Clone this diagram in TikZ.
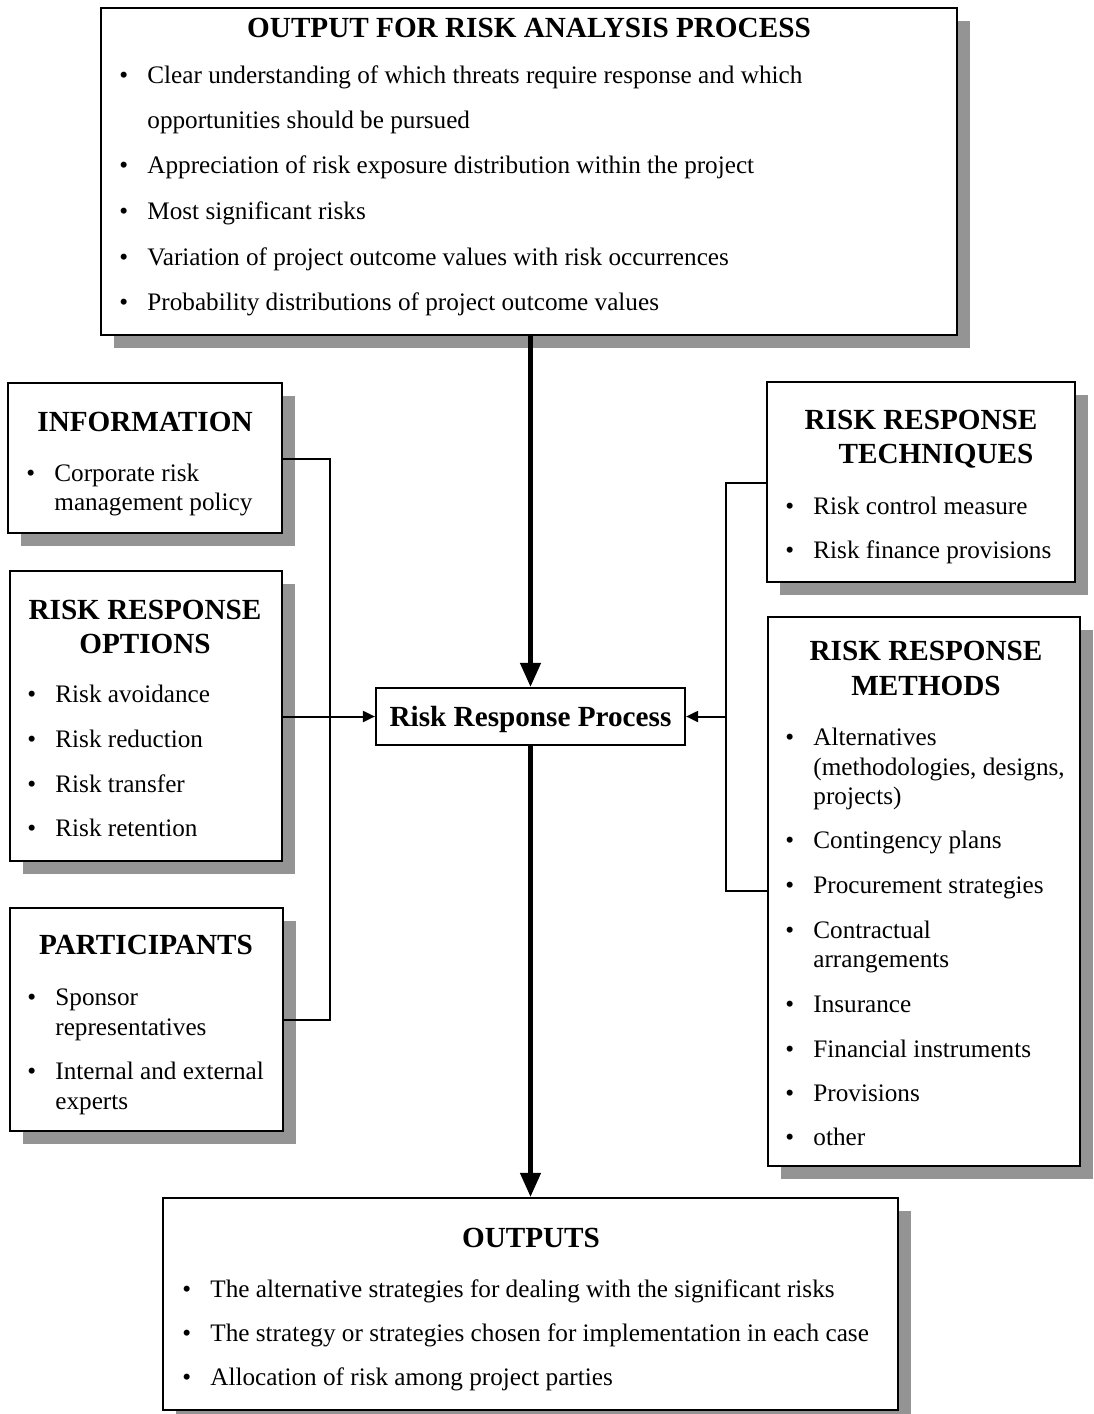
\documentclass[tikz,border=0pt]{standalone}
\usepackage{fontspec}
\setmainfont{Liberation Serif}
\usetikzlibrary{arrows.meta,fit}

% one unit = one drawing pixel, y grows downwards
\newcommand\bul{\makebox[14pt][l]{\textbullet}}

\tikzset{
  frame/.style={draw=black, line width=1.1pt, fill=white, inner sep=0pt},
  shadowfill/.style={fill=black!42},
  head/.style={font=\fontsize{14.6}{17}\selectfont\bfseries, inner sep=0pt, anchor=base},
  body/.style={font=\fontsize{12.6}{15}\selectfont, inner sep=0pt, anchor=base west},
  link/.style={line width=1pt},
  smallarrow/.style={line width=1pt, -{Triangle[length=6pt,width=5.5pt]}},
  bigarrow/.style={line width=2.2pt, -{Triangle[length=12pt,width=10pt]}}
}

% shadowed panel: name, x1, y1, x2, y2
\newcommand\panel[5]{%
  \fill[shadowfill, shift={(13,13)}] (#2,#3) rectangle (#4,#5);
  \node[frame, fit={(#2,#3)(#4,#5)}] (#1) {};
}

\begin{document}
\begin{tikzpicture}[x=0.5pt, y=-0.5pt]
\useasboundingbox (0,0) rectangle (1093,1414);

% ---------- panels ----------
\panel{top}{101}{8}{957}{335}
\panel{info}{8}{383}{282}{533}
\panel{opts}{10}{571}{282}{861}
\panel{part}{10}{908}{283}{1131}
\panel{tech}{767}{382}{1075}{582}
\panel{meth}{768}{617}{1080}{1166}
\panel{outs}{163}{1198}{898}{1410}

\node[frame, fit={(376,688)(685,745)}] (rrp) {};
\node[head] (rrp-t) at (530.5,726) {Risk Response Process};

% ---------- output of the analysis ----------
\node[head] (top-t) at (529,37) {OUTPUT FOR RISK ANALYSIS PROCESS};
\node[body] (top-1) at (119,83) {\bul Clear understanding of which threats require response and which};
\node[body] (top-2) at (147,128) {opportunities should be pursued};
\node[body] (top-3) at (119,173) {\bul Appreciation of risk exposure distribution within the project};
\node[body] (top-4) at (119,219) {\bul Most significant risks};
\node[body] (top-5) at (119,265) {\bul Variation of project outcome values with risk occurrences};
\node[body] (top-6) at (119,310) {\bul Probability distributions of project outcome values};

% ---------- information ----------
\node[head] (info-t) at (145,431) {INFORMATION};
\node[body] (info-1) at (26,481) {\bul Corporate risk};
\node[body] (info-2) at (54,510) {management policy};

% ---------- response options ----------
\node[head] (opts-t1) at (145,619) {RISK RESPONSE};
\node[head] (opts-t2) at (145,653) {OPTIONS};
\node[body] (opts-1) at (27,702) {\bul Risk avoidance};
\node[body] (opts-2) at (27,747) {\bul Risk reduction};
\node[body] (opts-3) at (27,792) {\bul Risk transfer};
\node[body] (opts-4) at (27,836) {\bul Risk retention};

% ---------- participants ----------
\node[head] (part-t) at (146,954) {PARTICIPANTS};
\node[body] (part-1) at (27,1005) {\bul Sponsor};
\node[body] (part-2) at (55,1035) {representatives};
\node[body] (part-3) at (27,1079) {\bul Internal and external};
\node[body] (part-4) at (55,1109) {experts};

% ---------- response techniques ----------
\node[head] (tech-t1) at (921,429) {RISK RESPONSE};
\node[head] (tech-t2) at (936,463) {TECHNIQUES};
\node[body] (tech-1) at (785,514) {\bul Risk control measure};
\node[body] (tech-2) at (785,558) {\bul Risk finance provisions};

% ---------- response methods ----------
\node[head] (meth-t1) at (926,660) {RISK RESPONSE};
\node[head] (meth-t2) at (926,695) {METHODS};
\node[body] (meth-1) at (785,745) {\bul Alternatives};
\node[body] (meth-1b) at (813,775) {(methodologies, designs,};
\node[body] (meth-1c) at (813,804) {projects)};
\node[body] (meth-2) at (785,848) {\bul Contingency plans};
\node[body] (meth-3) at (785,893) {\bul Procurement strategies};
\node[body] (meth-4) at (785,938) {\bul Contractual};
\node[body] (meth-4b) at (813,967) {arrangements};
\node[body] (meth-5) at (785,1012) {\bul Insurance};
\node[body] (meth-6) at (785,1057) {\bul Financial instruments};
\node[body] (meth-7) at (785,1101) {\bul Provisions};
\node[body] (meth-8) at (785,1145) {\bul other};

% ---------- outputs ----------
\node[head] (outs-t) at (531,1247) {OUTPUTS};
\node[body] (outs-1) at (182,1297) {\bul The alternative strategies for dealing with the significant risks};
\node[body] (outs-2) at (182,1341) {\bul The strategy or strategies chosen for implementation in each case};
\node[body] (outs-3) at (182,1385) {\bul Allocation of risk among project parties};

% ---------- connectors ----------
\coordinate (lb-top) at (330,459);
\coordinate (lb-bot) at (330,1020);
\draw[link] (info.east |- lb-top) -- (lb-top) -- (lb-bot) -- (part.east |- lb-bot);
\draw[smallarrow] (opts.east |- rrp.west) -- (rrp.west);

\coordinate (rb-top) at (726,483);
\coordinate (rb-bot) at (726,891);
\draw[link] (tech.west |- rb-top) -- (rb-top) -- (rb-bot) -- (meth.west |- rb-bot);
\draw[smallarrow] (rb-top |- rrp.east) -- (rrp.east);

\draw[bigarrow] (rrp.north |- top.south) -- (rrp.north);
\draw[bigarrow] (rrp.south) -- (rrp.south |- outs.north);
\end{tikzpicture}
\end{document}
